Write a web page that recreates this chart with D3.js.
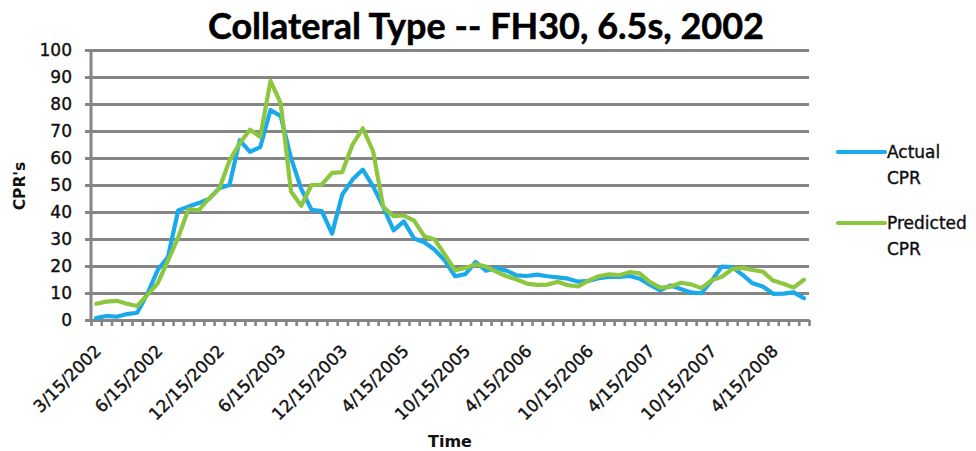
<!DOCTYPE html>
<html>
<head>
<meta charset="utf-8">
<script src="https://cdn.jsdelivr.net/npm/d3@7/dist/d3.min.js"></script>
<style>
  html, body { margin: 0; padding: 0; background: #fff; }
  svg { display: block; }
</style>
</head>
<body>
<div id="chart"></div>
<script>
// Monthly CPR observations, FH30 6.5s, 2002 cohort
const actualCPR = [
  0.7, 1.5, 1.2, 2.2, 2.7, 9.7, 18.5, 23.3, 40.6, 42.0,
  43.3, 44.8, 48.8, 50.0, 66.6, 62.3, 64.0, 77.8, 75.5, 60.0,
  48.5, 40.8, 40.3, 32.0, 46.5, 52.0, 55.7, 49.5, 41.8, 33.2,
  36.5, 30.2, 28.8, 26.0, 22.0, 16.2, 17.0, 21.5, 18.3, 19.2,
  18.3, 16.5, 16.3, 16.8, 16.2, 15.8, 15.3, 14.2, 14.5, 15.5,
  16.0, 16.0, 16.3, 15.3, 13.0, 11.0, 12.8, 11.5, 10.2, 9.9,
  14.5, 19.8, 19.6, 16.8, 13.6, 12.4, 9.7, 9.8, 10.2, 8.1
];
const predictedCPR = [
  6.0, 6.8, 7.1, 6.0, 5.2, 9.3, 13.6, 22.0, 30.5, 41.0,
  40.6, 45.0, 48.6, 59.0, 65.5, 70.5, 67.8, 88.6, 80.2, 47.6,
  42.3, 50.0, 50.1, 54.5, 54.8, 65.0, 71.0, 62.5, 41.8, 38.5,
  38.7, 36.8, 31.0, 29.8, 24.2, 18.4, 19.3, 20.6, 19.8, 17.9,
  16.2, 15.0, 13.5, 13.0, 13.1, 14.2, 12.9, 12.4, 14.6, 16.2,
  16.9, 16.6, 17.7, 17.3, 14.0, 12.0, 12.3, 13.8, 13.2, 11.8,
  14.7, 16.0, 18.8, 19.3, 18.5, 17.9, 14.6, 13.4, 12.0, 14.9
];
// Dates shown on the time axis (every sixth observation)
const tickLabels = [
  "3/15/2002", "6/15/2002", "12/15/2002", "6/15/2003", "12/15/2003", "4/15/2005",
  "10/15/2005", "4/15/2006", "10/15/2006", "4/15/2007", "10/15/2007", "4/15/2008"
];
const labelEvery = 6;
const yTicks = [0, 10, 20, 30, 40, 50, 60, 70, 80, 90, 100];
const seriesNames = ["Actual CPR", "Predicted CPR"];
const seriesColors = ["#1aa9ea", "#8dc63f"];

const W = 976, H = 451;
const plot = { left: 91, right: 809, top: 50, bottom: 320 };
const ink = "#111";

const svg = d3.select("#chart").append("svg")
  .attr("width", W).attr("height", H)
  .style("font-family", "'DejaVu Sans', sans-serif");

const n = actualCPR.length;
const x = d3.scaleBand().domain(d3.range(n)).range([plot.left, plot.right]).padding(0);
const xEdge = d3.scaleLinear().domain([0, n]).range([plot.left, plot.right]);
const y = d3.scaleLinear().domain([0, 100]).range([plot.bottom, plot.top]);
const cx = i => x(i) + x.bandwidth() / 2;

const gridColor = "#858585";

// slightly heavier text, like the chart's body font
const heavy = sel => sel.attr("fill", ink).attr("stroke", ink).attr("stroke-width", 0.4);

// Title
svg.append("text")
  .attr("x", 486).attr("y", 39)
  .attr("text-anchor", "middle")
  .style("font-family", "Lato, sans-serif")
  .style("font-weight", "bold")
  .style("font-size", "36px")
  .attr("fill", "#000")
  .attr("stroke", "#000").attr("stroke-width", 0.5)
  .text("Collateral Type -- FH30, 6.5s, 2002");

// Horizontal gridlines and left axis
const yAxis = d3.axisLeft(y).tickValues(yTicks).tickSize(plot.right - plot.left + 6).tickPadding(13);
const gy = svg.append("g")
  .attr("transform", `translate(${plot.right},0)`)
  .call(yAxis);
gy.select(".domain").remove();
gy.selectAll(".tick line").attr("stroke", gridColor).attr("stroke-width", 3);
gy.selectAll(".tick text")
  .call(heavy)
  .style("font-size", "17px")
  .style("font-family", "'DejaVu Sans', sans-serif");

svg.append("line")
  .attr("x1", plot.left).attr("x2", plot.left)
  .attr("y1", plot.top).attr("y2", plot.bottom)
  .attr("stroke", gridColor).attr("stroke-width", 3);

// Bottom axis: a tick between every observation
const xTickAxis = d3.axisBottom(xEdge).tickValues(d3.range(n + 1)).tickFormat("").tickSize(6).tickSizeOuter(0);
const gx = svg.append("g")
  .attr("transform", `translate(0,${plot.bottom})`)
  .call(xTickAxis);
gx.select(".domain").attr("stroke", gridColor).attr("stroke-width", 3);
gx.selectAll(".tick line").attr("stroke", gridColor).attr("stroke-width", 2.6);

// Rotated date labels
const labelIdx = tickLabels.map((_, k) => k * labelEvery);
svg.append("g").selectAll("text")
  .data(labelIdx)
  .join("text")
  .attr("transform", i => `translate(${cx(i) + 6},352) rotate(-45)`)
  .attr("text-anchor", "end")
  .call(heavy)
  .style("font-size", "17px")
  .text((i, k) => tickLabels[k]);

// Axis titles
svg.append("text")
  .attr("x", (plot.left + plot.right) / 2).attr("y", 447)
  .attr("text-anchor", "middle")
  .style("font-weight", "bold").style("font-size", "16px")
  .attr("fill", ink)
  .text("Time");

svg.append("text")
  .attr("transform", "translate(25,186) rotate(-90)")
  .attr("text-anchor", "middle")
  .style("font-weight", "bold").style("font-size", "15.5px")
  .attr("fill", ink)
  .text("CPR's");

// Series lines
const line = d3.line().x((d, i) => cx(i)).y(d => y(d));
[actualCPR, predictedCPR].forEach((s, k) => {
  svg.append("path")
    .datum(s)
    .attr("d", line)
    .attr("fill", "none")
    .attr("stroke", seriesColors[k])
    .attr("stroke-width", 4.2)
    .attr("stroke-linejoin", "round")
    .attr("stroke-linecap", "round");
});

// Legend
const legendY = [152, 223];
seriesNames.forEach((name, k) => {
  const g = svg.append("g").attr("transform", `translate(0,${legendY[k]})`);
  g.append("line")
    .attr("x1", 838).attr("x2", 885)
    .attr("stroke", seriesColors[k]).attr("stroke-width", 4.2)
    .attr("stroke-linecap", "round");
  const words = name.split(" ");
  g.append("text")
    .attr("x", 887).attr("y", 6)
    .call(heavy)
    .style("font-size", "17px")
    .selectAll("tspan")
    .data(words)
    .join("tspan")
    .attr("x", 887)
    .attr("dy", (d, j) => j === 0 ? 0 : 26)
    .text(d => d);
});
</script>
</body>
</html>
